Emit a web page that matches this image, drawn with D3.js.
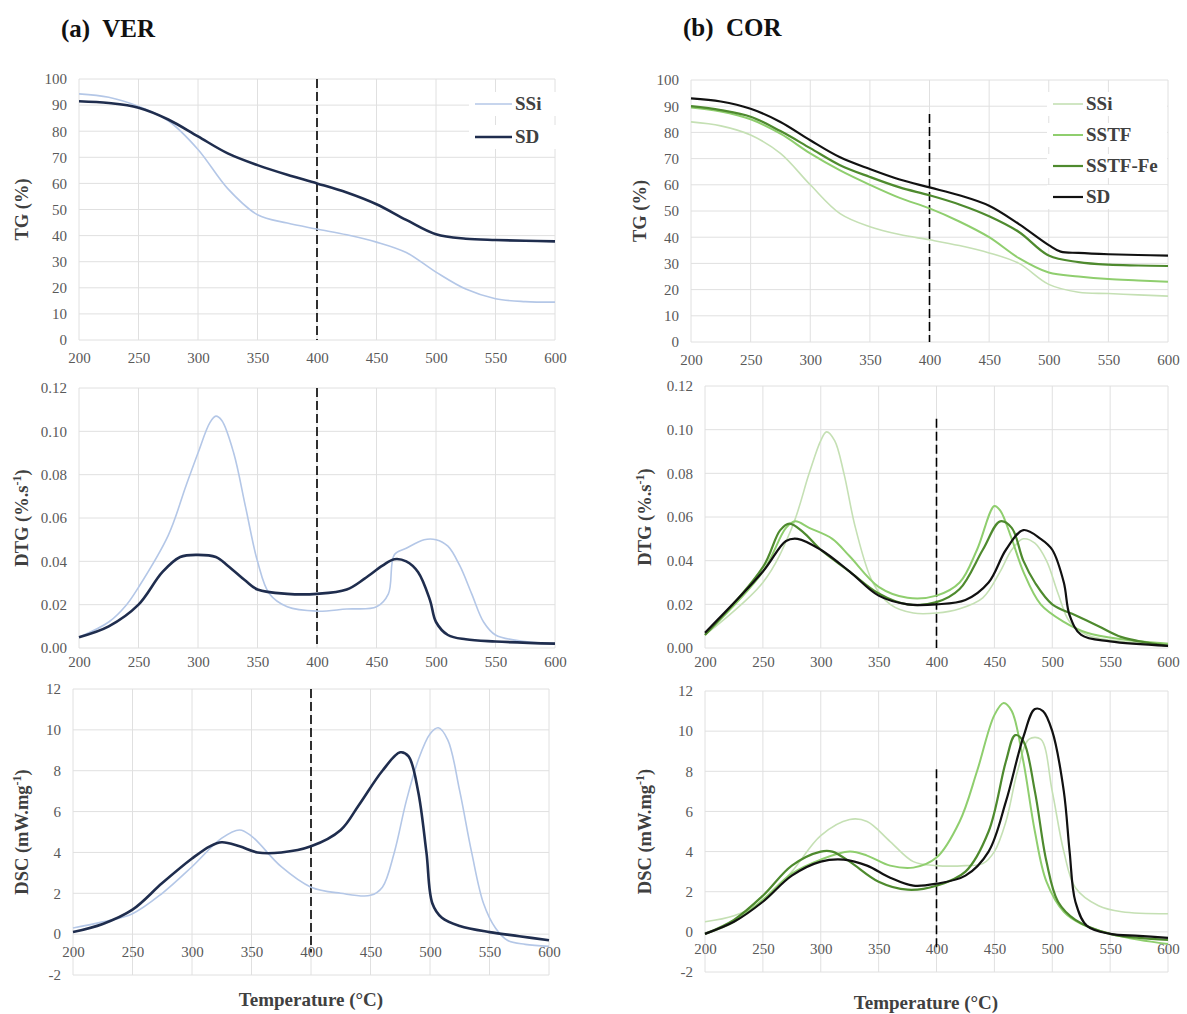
<!DOCTYPE html>
<html><head><meta charset="utf-8">
<script src="https://cdn.jsdelivr.net/npm/d3@7"></script>
<style>
body{margin:0;background:#fff;}
text{font-family:"Liberation Serif","Times New Roman",serif;}
</style></head>
<body><svg id="c" width="1187" height="1014"></svg>
<script>
// ---------- DATA ----------
const xTicks = [200,250,300,350,400,450,500,550,600];
const tgTicks = [0,10,20,30,40,50,60,70,80,90,100];
const dtgTicks = [0,0.02,0.04,0.06,0.08,0.10,0.12];
const dscTicks = [-2,0,2,4,6,8,10,12];

// (a) VER
const aTG_SSi = [[200,94.3],[225,93],[250,89.5],[275,84],[300,73],[325,58],[350,48],[375,44.8],[400,42.5],[425,40.3],[450,37.5],[475,33.5],[500,26],[525,19.5],[550,15.8],[575,14.7],[600,14.5]];
const aTG_SD  = [[200,91.5],[225,90.8],[250,89],[275,84.5],[300,78],[325,71.5],[350,67],[375,63.3],[400,60],[425,56.5],[450,52],[475,46],[500,40.5],[525,38.8],[550,38.3],[575,38],[600,37.8]];
const aDTG_SSi = [[200,0.005],[225,0.012],[240,0.02],[250,0.028],[275,0.052],[290,0.075],[300,0.09],[310,0.104],[315,0.107],[320,0.105],[330,0.09],[340,0.065],[350,0.04],[360,0.025],[375,0.019],[400,0.017],[425,0.018],[450,0.019],[460,0.025],[465,0.043],[475,0.046],[490,0.05],[500,0.05],[510,0.047],[520,0.038],[530,0.025],[540,0.012],[550,0.006],[575,0.003],[600,0.002]];
const aDTG_SD = [[200,0.005],[225,0.01],[250,0.02],[270,0.035],[285,0.042],[300,0.043],[315,0.042],[325,0.038],[340,0.031],[350,0.027],[375,0.025],[400,0.025],[425,0.027],[440,0.032],[455,0.038],[465,0.041],[475,0.04],[485,0.035],[495,0.022],[500,0.012],[510,0.006],[525,0.004],[550,0.003],[600,0.002]];
const aDSC_SSi = [[200,0.3],[225,0.6],[250,1.0],[275,2.0],[300,3.3],[325,4.7],[340,5.1],[350,4.8],[375,3.3],[400,2.3],[425,2.0],[450,1.9],[460,2.3],[470,4],[480,6.5],[490,8.5],[500,9.8],[507,10.1],[515,9.5],[525,7],[535,4],[545,1.5],[555,0.3],[565,-0.3],[580,-0.5],[600,-0.6]];
const aDSC_SD = [[200,0.1],[225,0.5],[250,1.2],[275,2.5],[300,3.7],[315,4.3],[325,4.5],[340,4.3],[355,4.0],[375,4.0],[400,4.3],[425,5.1],[440,6.3],[460,8.0],[475,8.9],[482,8.7],[490,7.0],[497,4],[502,1.5],[510,0.8],[525,0.4],[550,0.1],[575,-0.1],[600,-0.3]];

// (b) COR
const bTG_SSi = [[200,84],[225,82.5],[250,79],[275,72],[300,60],[325,49],[350,44],[375,41],[400,39],[425,36.8],[450,34],[475,30],[500,22],[525,19],[550,18.5],[575,18],[600,17.5]];
const bTG_SSTF = [[200,89.5],[225,88],[250,85],[275,79.5],[300,72],[325,65.5],[350,60],[375,55],[400,51],[425,46],[450,40],[475,32],[500,26.5],[525,25],[550,24],[575,23.5],[600,23]];
const bTG_SSTFFe = [[200,90],[225,88.5],[250,86],[275,80.5],[300,74],[325,67.5],[350,63],[375,59],[400,56],[425,52.5],[450,48],[475,42],[500,33],[525,30.5],[550,29.5],[575,29.2],[600,29]];
const bTG_SD = [[200,93],[225,91.8],[250,89],[275,84],[300,77],[325,70.5],[350,66],[375,62],[400,59],[425,56],[450,52],[475,45],[500,37],[510,34.5],[525,34],[550,33.5],[575,33.2],[600,33]];
const bDTG_SSi = [[200,0.006],[250,0.03],[275,0.055],[290,0.08],[300,0.095],[305,0.099],[312,0.095],[320,0.08],[330,0.055],[345,0.03],[360,0.02],[380,0.016],[400,0.016],[420,0.018],[440,0.023],[455,0.035],[465,0.045],[475,0.05],[485,0.048],[495,0.04],[505,0.025],[515,0.012],[530,0.006],[560,0.003],[600,0.002]];
const bDTG_SSTF = [[200,0.006],[250,0.035],[270,0.055],[278,0.058],[290,0.055],[310,0.05],[325,0.042],[350,0.028],[375,0.023],[400,0.024],[420,0.03],[435,0.045],[450,0.065],[455,0.063],[465,0.05],[475,0.035],[490,0.02],[510,0.012],[530,0.007],[560,0.004],[600,0.002]];
const bDTG_SSTFFe = [[200,0.006],[250,0.037],[265,0.054],[273,0.057],[285,0.053],[300,0.045],[325,0.035],[350,0.025],[375,0.02],[400,0.021],[420,0.027],[440,0.045],[455,0.058],[465,0.055],[475,0.04],[485,0.03],[500,0.02],[520,0.015],[540,0.01],[560,0.005],[600,0.001]];
const bDTG_SD = [[200,0.007],[250,0.035],[270,0.049],[280,0.05],[300,0.045],[325,0.035],[350,0.024],[375,0.02],[400,0.02],[425,0.022],[445,0.03],[460,0.045],[475,0.054],[490,0.05],[500,0.045],[510,0.03],[515,0.015],[525,0.006],[550,0.003],[600,0.001]];
const bDSC_SSi = [[200,0.5],[225,0.8],[250,1.5],[275,3],[300,4.8],[325,5.6],[340,5.5],[360,4.5],[380,3.5],[400,3.3],[425,3.3],[440,3.4],[450,4],[460,5.5],[470,8],[480,9.6],[490,9.6],[500,7],[510,4],[520,2.2],[540,1.3],[560,1.0],[600,0.9]];
const bDSC_SSTF = [[200,-0.1],[225,0.5],[250,1.6],[275,2.9],[300,3.6],[325,4.0],[340,3.8],[360,3.3],[380,3.2],[400,3.7],[420,5.5],[435,8],[450,10.8],[458,11.4],[465,11],[475,8.5],[485,5],[495,2.5],[510,1.0],[525,0.4],[550,-0.1],[575,-0.4],[600,-0.6]];
const bDSC_SSTFFe = [[200,-0.1],[225,0.6],[250,1.8],[275,3.3],[300,4.0],[310,4.0],[325,3.5],[350,2.5],[375,2.1],[400,2.3],[425,3.0],[445,5],[460,8.5],[468,9.8],[475,9.5],[485,7],[495,3.5],[505,1.5],[520,0.6],[550,-0.1],[575,-0.3],[600,-0.4]];
const bDSC_SD = [[200,-0.1],[225,0.5],[250,1.5],[275,2.8],[300,3.5],[320,3.6],[340,3.3],[360,2.7],[380,2.3],[400,2.4],[425,2.8],[445,4],[460,6.5],[475,9.7],[485,11.1],[492,11],[500,10],[510,7],[515,4],[520,1.5],[530,0.3],[550,-0.1],[575,-0.2],[600,-0.3]];

const legendA = ["SSi","SD"];
const legendB = ["SSi","SSTF","SSTF-Fe","SD"];

// ---------- STYLE / LAYOUT ----------
const col = {aSSi:"#b4c7e7", aSD:"#1f2d4e", bSSi:"#c5e0b4", bSSTF:"#8fce6e", bSSTFFe:"#4e8a2e", bSD:"#111111"};
const svg = d3.select("#c");
const tickColor = "#595959", gridColor = "#e0e0e0";
const intFmt = d => String(d);

function panel(o){
  const x = d3.scaleLinear().domain([200,600]).range([o.l,o.r]);
  const y = d3.scaleLinear().domain(o.yd).range([o.b,o.t]);
  const g = svg.append("g");
  g.selectAll(".hg").data(o.yt).join("line")
    .attr("x1",o.l).attr("x2",o.r).attr("y1",d=>y(d)).attr("y2",d=>y(d))
    .attr("stroke",gridColor).attr("stroke-width",1);
  g.selectAll(".vg").data(xTicks).join("line")
    .attr("x1",d=>x(d)).attr("x2",d=>x(d)).attr("y1",o.t).attr("y2",o.b)
    .attr("stroke",gridColor).attr("stroke-width",1);
  const ya = d3.axisLeft(y).tickValues(o.yt).tickSize(0).tickPadding(12).tickFormat(o.yf);
  const yg = g.append("g").attr("transform",`translate(${o.l},0)`).call(ya);
  yg.select(".domain").remove();
  yg.selectAll("text").attr("fill",tickColor).style("font-size","15px").style("font-family","Liberation Serif, serif");
  const xa = d3.axisBottom(x).tickValues(xTicks).tickSize(0).tickPadding(o.xpad).tickFormat(intFmt);
  const xg = g.append("g").attr("transform",`translate(0,${y(o.xAt)})`).call(xa);
  xg.select(".domain").remove();
  xg.selectAll("text").attr("fill",tickColor).style("font-size","15px").style("font-family","Liberation Serif, serif");
  g.append("line").attr("x1",x(400)).attr("x2",x(400)).attr("y1",y(o.dash[0])).attr("y2",y(o.dash[1]))
    .attr("stroke","#000").attr("stroke-width",1.6).attr("stroke-dasharray","9,4");
  const line = d3.line().x(d=>x(d[0])).y(d=>y(d[1])).curve(d3.curveCatmullRom.alpha(0.5));
  o.series.forEach(s=>{
    g.append("path").attr("d",line(s.data)).attr("fill","none").attr("stroke",s.c).attr("stroke-width",s.w)
      .attr("stroke-linejoin","round");
  });
  const tt = g.append("text").attr("transform",`translate(${o.tx},${(o.t+o.b)/2}) rotate(-90)`)
    .attr("text-anchor","middle").attr("fill","#404040").style("font-size","18.5px").style("font-weight","bold");
  o.title(tt);
  return {x,y};
}
function dtgTitle(t){ t.text("DTG (%.s"); t.append("tspan").attr("dy",-7).style("font-size","12px").text("-1"); t.append("tspan").attr("dy",7).text(")"); }
function dscTitle(t){ t.text("DSC (mW.mg"); t.append("tspan").attr("dy",-7).style("font-size","12px").text("-1"); t.append("tspan").attr("dy",7).text(")"); }

// (a)
panel({l:79,r:555,t:79,b:340,yd:[0,100],yt:tgTicks,yf:intFmt,xAt:0,xpad:12,dash:[100,0],tx:28,
  title:t=>t.text("TG (%)"),
  series:[{data:aTG_SSi,c:col.aSSi,w:1.6},{data:aTG_SD,c:col.aSD,w:2.6}]});
panel({l:79,r:555,t:388,b:648,yd:[0,0.12],yt:dtgTicks,yf:d3.format(".2f"),xAt:0,xpad:8,dash:[0.12,0],tx:28,
  title:dtgTitle,
  series:[{data:aDTG_SSi,c:col.aSSi,w:1.6},{data:aDTG_SD,c:col.aSD,w:2.6}]});
panel({l:73,r:549,t:689,b:975,yd:[-2,12],yt:dscTicks,yf:intFmt,xAt:0,xpad:12,dash:[12,-0.9],tx:28,
  title:dscTitle,
  series:[{data:aDSC_SSi,c:col.aSSi,w:1.6},{data:aDSC_SD,c:col.aSD,w:2.6}]});

// (b)
panel({l:691,r:1168,t:80,b:342,yd:[0,100],yt:tgTicks,yf:intFmt,xAt:0,xpad:12,dash:[87,0],tx:646,
  title:t=>t.text("TG (%)"),
  series:[{data:bTG_SSi,c:col.bSSi,w:1.6},{data:bTG_SSTF,c:col.bSSTF,w:2},{data:bTG_SSTFFe,c:col.bSSTFFe,w:2.2},{data:bTG_SD,c:col.bSD,w:2.2}]});
panel({l:705,r:1168,t:386,b:648,yd:[0,0.12],yt:dtgTicks,yf:d3.format(".2f"),xAt:0,xpad:8,dash:[0.105,0],tx:651,
  title:dtgTitle,
  series:[{data:bDTG_SSi,c:col.bSSi,w:1.6},{data:bDTG_SSTF,c:col.bSSTF,w:2},{data:bDTG_SSTFFe,c:col.bSSTFFe,w:2.2},{data:bDTG_SD,c:col.bSD,w:2.2}]});
panel({l:705,r:1168,t:691,b:972,yd:[-2,12],yt:dscTicks,yf:intFmt,xAt:0,xpad:12,dash:[8.1,-0.9],tx:651,
  title:dscTitle,
  series:[{data:bDSC_SSi,c:col.bSSi,w:1.6},{data:bDSC_SSTF,c:col.bSSTF,w:2},{data:bDSC_SSTFFe,c:col.bSSTFFe,w:2.2},{data:bDSC_SD,c:col.bSD,w:2.2}]});

// legends
function legend(names, cols, ws, x0, y0, dy, len){
  const g = svg.append("g");
  names.forEach((n,i)=>{
    const yy = y0 + i*dy;
    g.append("rect").attr("x",x0-6).attr("y",yy-12).attr("width",len+90).attr("height",24).attr("fill","#fff");
    g.append("line").attr("x1",x0).attr("x2",x0+len).attr("y1",yy).attr("y2",yy).attr("stroke",cols[i]).attr("stroke-width",ws[i]);
    g.append("text").attr("x",x0+len+3).attr("y",yy+6).attr("fill","#404040").style("font-size","19px").style("font-weight","bold").text(n);
  });
}
legend(legendA,[col.aSSi,col.aSD],[1.6,2.6],475,104,33,37);
legend(legendB,[col.bSSi,col.bSSTF,col.bSSTFFe,col.bSD],[1.6,2,2.2,2.2],1053,104,31,30);

// panel titles & x titles
svg.append("text").attr("x",61).attr("y",37).style("font-size","25px").style("font-weight","bold").attr("fill","#111").attr("xml:space","preserve").text("(a)  VER");
svg.append("text").attr("x",683).attr("y",36).style("font-size","25px").style("font-weight","bold").attr("fill","#111").attr("xml:space","preserve").text("(b)  COR");
svg.append("text").attr("x",311).attr("y",1006).attr("text-anchor","middle").style("font-size","19px").style("font-weight","bold").attr("fill","#404040").text("Temperature (°C)");
svg.append("text").attr("x",926).attr("y",1009).attr("text-anchor","middle").style("font-size","19px").style("font-weight","bold").attr("fill","#404040").text("Temperature (°C)");
</script></body></html>
